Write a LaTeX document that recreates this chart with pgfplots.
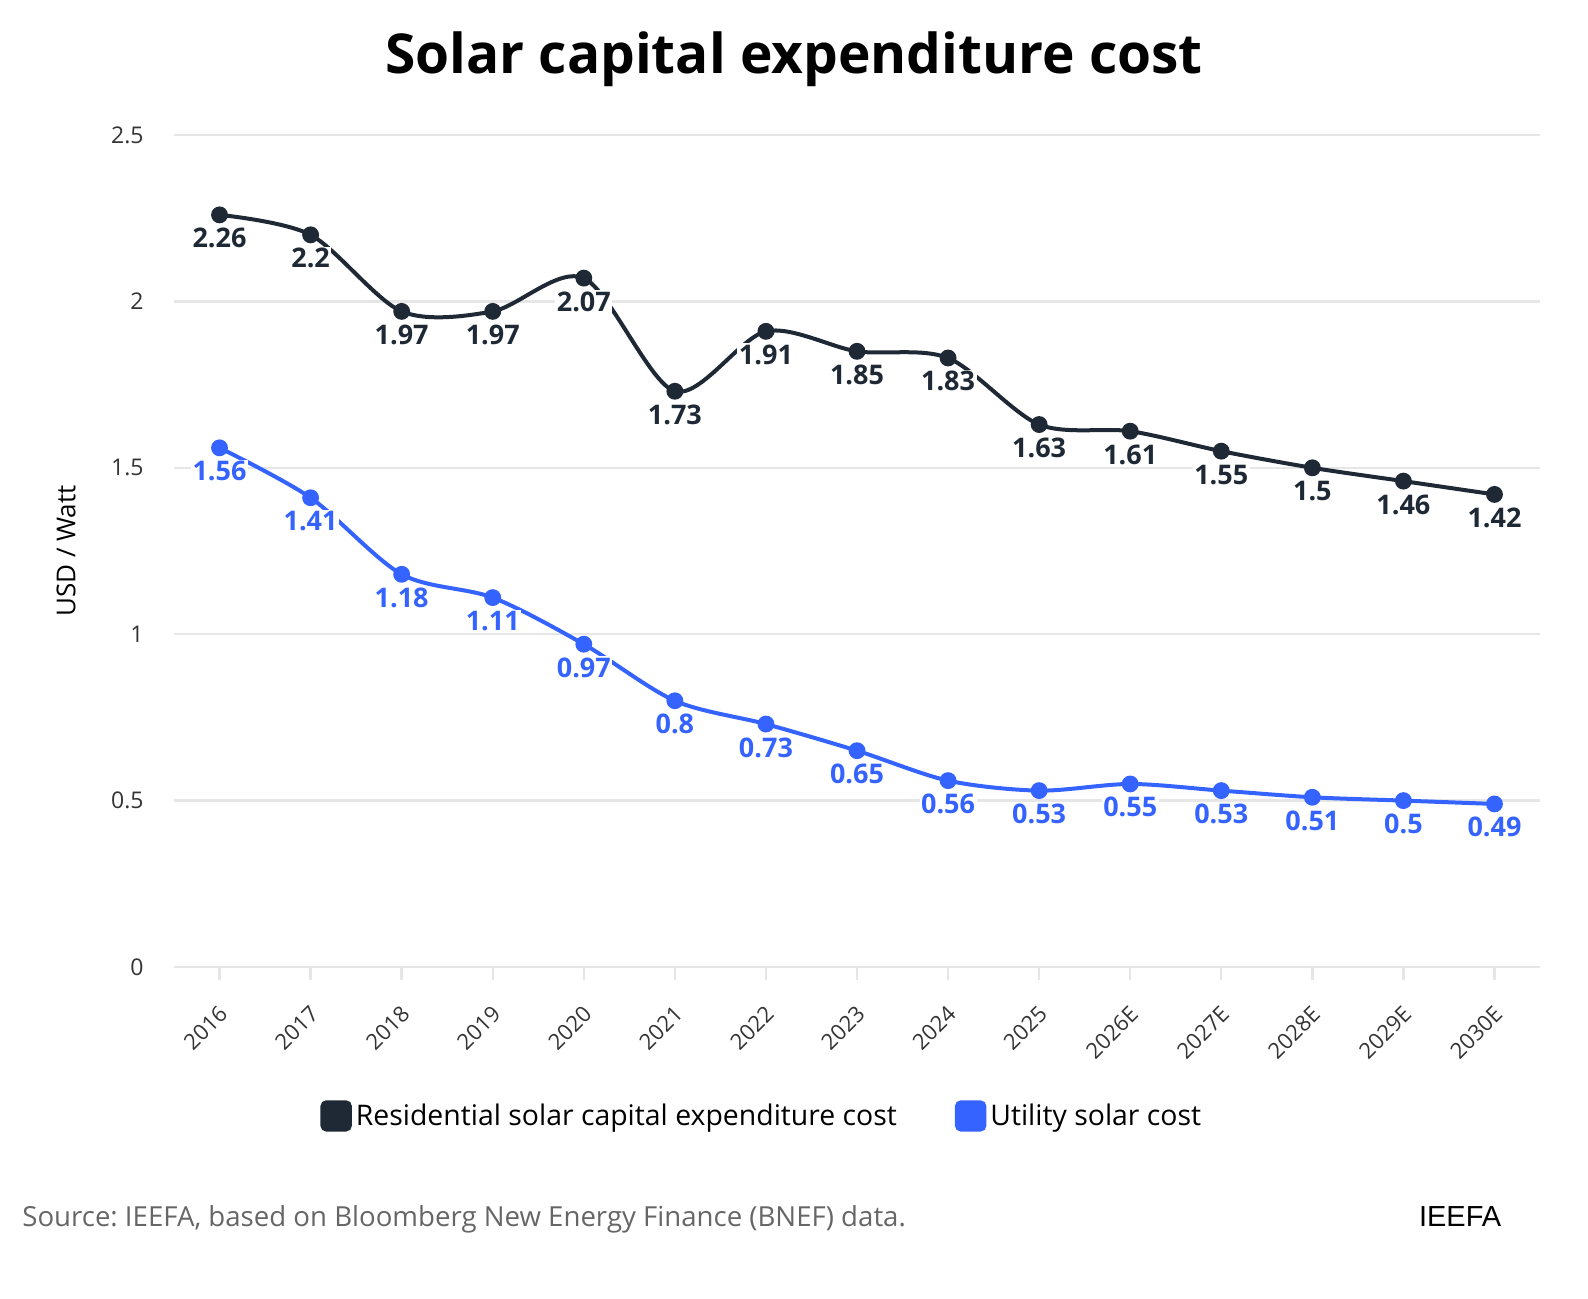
\documentclass[border=0pt]{standalone}
\usepackage{pgfplots}
\pgfplotsset{compat=1.18}
\usepackage{fontspec}
\setmainfont{Open Sans}
\newfontfamily\brandfont{Liberation Sans}
\frenchspacing

\definecolor{resid}{HTML}{1E2935}
\definecolor{util}{HTML}{3563FF}
\definecolor{gridgray}{HTML}{E6E6E6}
\definecolor{ticktext}{HTML}{333333}
\definecolor{srcgray}{HTML}{666666}

\begin{document}
\begin{tikzpicture}
\path[use as bounding box] (0pt,0pt) rectangle (794pt,649pt);

\node[anchor=base, font=\bfseries\fontsize{27.5}{33}\selectfont] at (397pt,612pt)
  {Solar capital expenditure cost};

\begin{axis}[
  at={(87pt,165.5pt)}, anchor=south west,
  scale only axis, width=683pt, height=416pt,
  xmin=-0.5, xmax=14.5, ymin=0, ymax=2.5,
  xtick={0,...,14},
  xticklabels={2016,2017,2018,2019,2020,2021,2022,2023,2024,2025,2026E,2027E,2028E,2029E,2030E},
  ytick={0,0.5,1,1.5,2,2.5},
  axis line style={draw=none},
  ymajorgrids, grid style={gridgray, line width=1.2pt},
  xtick pos=bottom, ytick pos=left,
  xtick align=outside, ytick align=inside,
  major tick length=6.5pt,
  xtick style={gridgray, line width=1.2pt},
  ytick style={draw=none},
  /pgf/number format/assume math mode=true,
  yticklabel style={font=\fontsize{11.5}{13}\selectfont, text=ticktext, anchor=east, inner sep=0pt, xshift=-15pt},
  xticklabel style={font=\fontsize{11}{13}\selectfont, text=ticktext, inner sep=0pt, xshift=2pt, yshift=-15pt, rotate=45, anchor=east},
  every axis y label/.style={at={(axis description cs:-0.079,0.5)}, rotate=90, anchor=center},
  ylabel={USD / Watt},
  ylabel style={font=\fontsize{13}{15}\selectfont},
  clip=false,
  legend columns=2,
  legend style={draw=none, fill=none, at={(0.1069,-0.179)}, anchor=west, inner sep=0pt,
    font=\fontsize{14.2}{17}\selectfont,
    /tikz/every even column/.append style={column sep=27pt}},
  legend image code/.code={\fill[rounded corners=2pt] (0pt,-6.8pt) rectangle (13.7pt,6.8pt);},
  % value labels sit under each point, on a white patch so lines and grid do not run through them
  every node near coord/.append style={font=\bfseries\fontsize{13.5}{16}\selectfont,
    anchor=center, yshift=-11.7pt, fill=white, inner sep=0.8pt},
  nodes near coords,
  point meta=y,
]
\addplot[resid, line width=2pt, smooth, tension=0.5, mark=*, mark size=3.2pt,
  every node near coord/.append style={text=resid}]
  coordinates {(0,2.26) (1,2.2) (2,1.97) (3,1.97) (4,2.07) (5,1.73) (6,1.91) (7,1.85)
               (8,1.83) (9,1.63) (10,1.61) (11,1.55) (12,1.5) (13,1.46) (14,1.42)};
\addlegendentry{Residential solar capital expenditure cost}
\addplot[util, line width=2pt, smooth, tension=0.5, mark=*, mark size=3.2pt,
  every node near coord/.append style={text=util}]
  coordinates {(0,1.56) (1,1.41) (2,1.18) (3,1.11) (4,0.97) (5,0.8) (6,0.73) (7,0.65)
               (8,0.56) (9,0.53) (10,0.55) (11,0.53) (12,0.51) (13,0.5) (14,0.49)};
\addlegendentry{Utility solar cost}
\end{axis}

\node[anchor=base west, inner sep=0pt, font=\fontsize{13.8}{16}\selectfont, text=srcgray] at (11pt,36pt)
  {Source: IEEFA, based on Bloomberg New Energy Finance (BNEF) data.};
\node[anchor=base east, inner sep=0pt, font=\brandfont\fontsize{14.5}{17}\selectfont] at (750.8pt,36pt) {IEEFA};
\end{tikzpicture}
\end{document}
